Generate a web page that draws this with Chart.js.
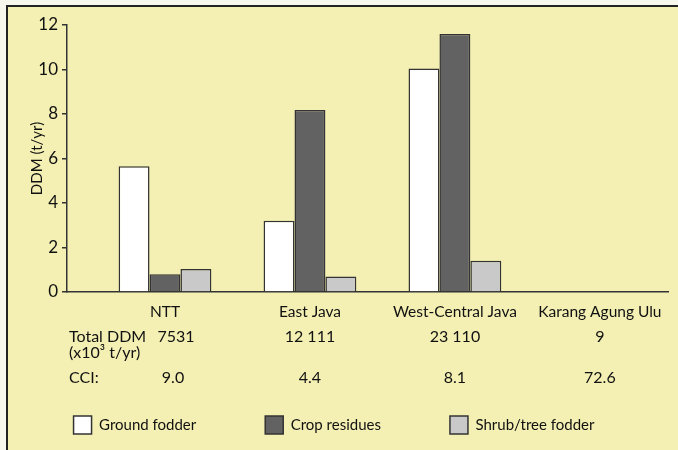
<!DOCTYPE html>
<html>
<head>
<meta charset="utf-8">
<script src="https://cdn.jsdelivr.net/npm/chart.js@4/dist/chart.umd.min.js"></script>
<style>
  html, body { margin: 0; padding: 0; background: #f8f7ee; }
  #wrap { width: 678px; height: 450px; }
</style>
</head>
<body>
<div id="wrap"><canvas id="myChart" width="678" height="450"></canvas></div>
<script>
// data
var regions = ['NTT', 'East Java', 'West-Central Java', 'Karang Agung Ulu'];
var groundFodder = [5.65, 3.2, 10.05, 0];
var cropResidues = [0.8, 8.18, 11.6, 0];
var shrubFodder = [1.03, 0.7, 1.4, 0];
var totalDDM = ['7531', '12 111', '23 110', '9'];
var cci = ['9.0', '4.4', '8.1', '72.6'];
var yTicks = [0, 2, 4, 6, 8, 10, 12];

var FONT = 'Lato';
var INK = '#111111';

function points(values) {
    return values.map(function(v, i) { return { x: i, y: v }; });
}

// yellow panel with frame on top / left
var panel = {
    id: 'panel',
    beforeDraw: function(chart) {
        var ctx = chart.ctx;
        ctx.save();
        ctx.fillStyle = '#f8f7ee';
        ctx.fillRect(0, 0, chart.width, chart.height);
        ctx.fillStyle = '#f4f0b4';
        ctx.fillRect(7, 6, chart.width - 7, chart.height - 6);
        ctx.strokeStyle = '#222';
        ctx.lineWidth = 2;
        ctx.beginPath();
        ctx.moveTo(7, chart.height);
        ctx.lineTo(7, 6);
        ctx.lineTo(chart.width, 6);
        ctx.stroke();
        ctx.restore();
    }
};

// the little table under the axis
var table = {
    id: 'table',
    afterDraw: function(chart) {
        var ctx = chart.ctx;
        var x = chart.scales.x;
        ctx.save();
        ctx.fillStyle = INK;
        ctx.font = '16px ' + FONT;
        ctx.textBaseline = 'middle';
        ctx.textAlign = 'left';
        ctx.fillText('Total DDM', 69, 337);
        ctx.fillText('(x10\u00b3 t/yr)', 69, 353);
        ctx.fillText('CCI:', 69, 378);
        ctx.textAlign = 'center';
        regions.forEach(function(r, i) {
            var px = x.getPixelForValue(i);
            ctx.fillText(totalDDM[i], px + (i === 0 ? 11 : 0), 337);
            ctx.fillText(cci[i], px + (i === 0 ? 8 : 0), 378);
        });
        ctx.restore();
    }
};

var ctx = document.getElementById('myChart').getContext('2d');
var myChart = new Chart(ctx, {
    type: 'bar',
    data: {
        datasets: [{
            label: 'Ground fodder',
            data: points(groundFodder),
            backgroundColor: '#ffffff',
            borderColor: '#333333',
            borderWidth: 1.5
        }, {
            label: 'Crop residues',
            data: points(cropResidues),
            backgroundColor: '#626262',
            borderColor: '#333333',
            borderWidth: 1.5
        }, {
            label: 'Shrub/tree fodder',
            data: points(shrubFodder),
            backgroundColor: '#c9c9c9',
            borderColor: '#333333',
            borderWidth: 1.5
        }]
    },
    options: {
        responsive: false,
        animation: false,
        layout: { padding: { top: 25, bottom: 6, left: 0, right: 10 } },
        datasets: { bar: { categoryPercentage: 0.64, barPercentage: 1 } },
        plugins: {
            tooltip: { enabled: false },
            legend: {
                position: 'bottom',
                labels: {
                    color: INK,
                    font: { family: FONT, size: 15 },
                    boxWidth: 18,
                    boxHeight: 18,
                    padding: 69
                }
            }
        },
        scales: {
            x: {
                type: 'linear',
                offset: false,
                min: -0.676,
                max: 3.47,
                afterBuildTicks: function(s) {
                    s.ticks = regions.map(function(r, i) { return { value: i }; });
                },
                afterFit: function(s) {
                    s.height = 450 - 6 - s.chart.legend.height - 292;
                },
                grid: { display: false },
                border: { color: '#333', width: 1.5 },
                ticks: {
                    autoSkip: false,
                    maxRotation: 0,
                    padding: 3,
                    color: INK,
                    font: { family: FONT, size: 15.5 },
                    callback: function(v) { return regions[v] || ''; }
                }
            },
            y: {
                min: 0,
                max: 12,
                afterBuildTicks: function(s) {
                    s.ticks = yTicks.map(function(v) { return { value: v }; });
                },
                afterFit: function(s) { s.width = 67; },
                grid: { drawOnChartArea: false, drawTicks: true, tickLength: 5, color: '#333', lineWidth: 1.5 },
                border: { color: '#333', width: 1.5 },
                ticks: {
                    padding: 4,
                    color: INK,
                    font: { family: FONT, size: 17 }
                },
                title: {
                    display: true,
                    text: 'DDM (t/yr)',
                    color: INK,
                    font: { family: FONT, size: 15 },
                    padding: { top: 28, bottom: 0 }
                }
            }
        }
    },
    plugins: [panel, table]
});
</script>
</body>
</html>
